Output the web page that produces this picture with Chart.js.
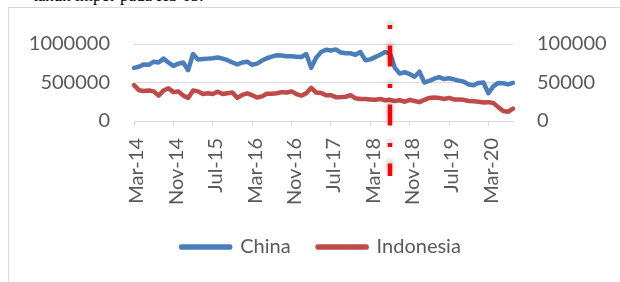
<!DOCTYPE html>
<html lang="id">
<head>
  <meta charset="UTF-8">
  <title>Impor HS 03 - China dan Indonesia</title>
  <style>
    body {
      margin: 0;
      width: 620px;
      height: 282px;
      overflow: hidden;
      position: relative;
      background: #fff;
      font-family: Lato, sans-serif;
    }

    #caption {
      position: absolute;
      left: 33px;
      top: -13px;
      font-family: 'Liberation Serif', serif;
      font-size: 17px;
      line-height: 17px;
      color: #000;
      white-space: nowrap;
      z-index: 2;
    }

    #frame {
      position: absolute;
      left: 8px;
      top: 7px;
      width: 700px;
      height: 300px;
      border: 1px solid #d9d9d9;
    }

    #chart-container {
      position: absolute;
      left: 0;
      top: 0;
      width: 606px;
      height: 274px;
    }
  </style>
</head>
<body>
  <div id="caption">tahun impor pada HS 03.</div>
  <div id="frame">
    <div id="chart-container">
      <canvas id="lineChart"></canvas>
    </div>
  </div>

  <script src="https://cdn.jsdelivr.net/npm/chart.js"></script>
  <script>
    // mois, de Mar-14 a Aug-20
    const months = [
      'Mar-14', 'Apr-14', 'May-14', 'Jun-14', 'Jul-14', 'Aug-14', 'Sep-14', 'Oct-14', 'Nov-14', 'Dec-14',
      'Jan-15', 'Feb-15', 'Mar-15', 'Apr-15', 'May-15', 'Jun-15', 'Jul-15', 'Aug-15', 'Sep-15', 'Oct-15', 'Nov-15', 'Dec-15',
      'Jan-16', 'Feb-16', 'Mar-16', 'Apr-16', 'May-16', 'Jun-16', 'Jul-16', 'Aug-16', 'Sep-16', 'Oct-16', 'Nov-16', 'Dec-16',
      'Jan-17', 'Feb-17', 'Mar-17', 'Apr-17', 'May-17', 'Jun-17', 'Jul-17', 'Aug-17', 'Sep-17', 'Oct-17', 'Nov-17', 'Dec-17',
      'Jan-18', 'Feb-18', 'Mar-18', 'Apr-18', 'May-18', 'Jun-18', 'Jul-18', 'Aug-18', 'Sep-18', 'Oct-18', 'Nov-18', 'Dec-18',
      'Jan-19', 'Feb-19', 'Mar-19', 'Apr-19', 'May-19', 'Jun-19', 'Jul-19', 'Aug-19', 'Sep-19', 'Oct-19', 'Nov-19', 'Dec-19',
      'Jan-20', 'Feb-20', 'Mar-20', 'Apr-20', 'May-20', 'Jun-20', 'Jul-20', 'Aug-20'
    ];

    const tickLabels = ['Mar-14', 'Nov-14', 'Jul-15', 'Mar-16', 'Nov-16', 'Jul-17', 'Mar-18', 'Nov-18', 'Jul-19', 'Mar-20'];

    const china = [
      690000, 705000, 735000, 730000, 770000, 760000, 810000, 760000, 715000, 745000,
      760000, 660000, 870000, 800000, 805000, 810000, 815000, 825000, 810000, 790000,
      760000, 735000, 760000, 770000, 730000, 745000, 785000, 815000, 835000, 855000,
      850000, 840000, 840000, 835000, 830000, 870000, 690000, 820000, 895000, 925000,
      915000, 930000, 890000, 880000, 880000, 860000, 895000, 790000, 800000, 830000,
      860000, 895000, 880000, 690000, 615000, 635000, 610000, 575000, 640000, 500000,
      520000, 550000, 570000, 545000, 555000, 540000, 525000, 510000, 475000, 465000,
      495000, 500000, 360000, 450000, 495000, 490000, 475000, 495000
    ];

    const indonesia = [
      465000, 400000, 390000, 395000, 385000, 330000, 395000, 425000, 375000, 385000,
      330000, 300000, 395000, 385000, 350000, 360000, 350000, 380000, 350000, 360000,
      370000, 300000, 340000, 360000, 335000, 305000, 320000, 355000, 355000, 360000,
      375000, 370000, 385000, 350000, 330000, 360000, 430000, 370000, 365000, 335000,
      335000, 310000, 310000, 315000, 335000, 295000, 285000, 285000, 280000, 275000,
      285000, 270000, 275000, 260000, 270000, 250000, 275000, 260000, 245000, 275000,
      300000, 305000, 300000, 285000, 300000, 280000, 280000, 275000, 260000, 255000,
      250000, 240000, 245000, 235000, 180000, 130000, 120000, 160000
    ];

    const markerMonth = 'Jul-18';

    const leftMax = 1000000;
    const leftStep = 500000;
    const rightMax = 100000;
    const rightStep = 50000;

    const axisFont = { family: 'Lato', size: 20 };
    const textColor = '#595959';
    const gridColor = '#d9d9d9';

    // ligne verticale rouge (tiret-point)
    const markerLine = {
      id: 'markerLine',
      afterDatasetsDraw(chart) {
        const idx = months.indexOf(markerMonth);
        const x = chart.scales.x.getPixelForValue(idx);
        const area = chart.chartArea;
        const ctx = chart.ctx;
        ctx.save();
        ctx.strokeStyle = '#ff0000';
        ctx.lineWidth = 4.5;
        ctx.setLineDash([4, 16.5, 21, 17.5]);
        ctx.shadowColor = 'rgba(0,0,0,0.3)';
        ctx.shadowBlur = 5;
        ctx.shadowOffsetY = -3;
        ctx.beginPath();
        ctx.moveTo(x, area.top - 19);
        ctx.lineTo(x, area.bottom + 55);
        ctx.stroke();
        ctx.restore();
      }
    };

    const plainNumber = (value) => String(value);

    const lineCtx = document.getElementById('lineChart');
    new Chart(lineCtx, {
      type: 'line',
      data: {
        labels: months,
        datasets: [{
          label: 'China',
          data: china,
          borderColor: '#4a7ebb',
          backgroundColor: '#4a7ebb',
          borderWidth: 4.5,
          borderJoinStyle: 'round',
          borderCapStyle: 'round',
          pointRadius: 0,
          tension: 0,
          yAxisID: 'y'
        }, {
          label: 'Indonesia',
          data: indonesia,
          borderColor: '#be4b48',
          backgroundColor: '#be4b48',
          borderWidth: 4.5,
          borderJoinStyle: 'round',
          borderCapStyle: 'round',
          pointRadius: 0,
          tension: 0,
          yAxisID: 'y'
        }]
      },
      options: {
        responsive: true,
        maintainAspectRatio: false,
        animation: false,
        layout: {
          padding: { top: 27, left: 18, right: 0, bottom: 15 }
        },
        plugins: {
          legend: {
            position: 'bottom',
            labels: {
              font: axisFont,
              color: textColor,
              boxWidth: 49,
              boxHeight: 1,
              padding: 27
            }
          },
          tooltip: { enabled: false }
        },
        scales: {
          x: {
            offset: false,
            border: { color: gridColor, width: 1 },
            grid: {
              drawOnChartArea: false,
              tickLength: 5,
              tickColor: (c) => tickLabels.includes(months[c.index]) ? gridColor : 'rgba(0,0,0,0)'
            },
            ticks: {
              autoSkip: false,
              minRotation: 90,
              maxRotation: 90,
              padding: 12,
              labelOffset: 3,
              font: axisFont,
              color: textColor,
              callback: function(value, index) {
                const m = months[index];
                return tickLabels.includes(m) ? m : '';
              }
            },
            afterFit(scale) { scale.height = 89; }
          },
          y: {
            position: 'left',
            min: 0,
            max: leftMax,
            border: { display: false },
            grid: { color: gridColor, drawTicks: false },
            ticks: {
              stepSize: leftStep,
              padding: 24,
              font: axisFont,
              color: textColor,
              callback: plainNumber
            },
            afterFit(scale) { scale.width = 107; }
          },
          y2: {
            position: 'right',
            min: 0,
            max: rightMax,
            border: { display: false },
            grid: { display: false, drawTicks: false },
            ticks: {
              stepSize: rightStep,
              padding: 24,
              font: axisFont,
              color: textColor,
              callback: plainNumber
            },
            afterFit(scale) { scale.width = 102; }
          }
        }
      },
      plugins: [markerLine]
    });
  </script>
</body>
</html>
